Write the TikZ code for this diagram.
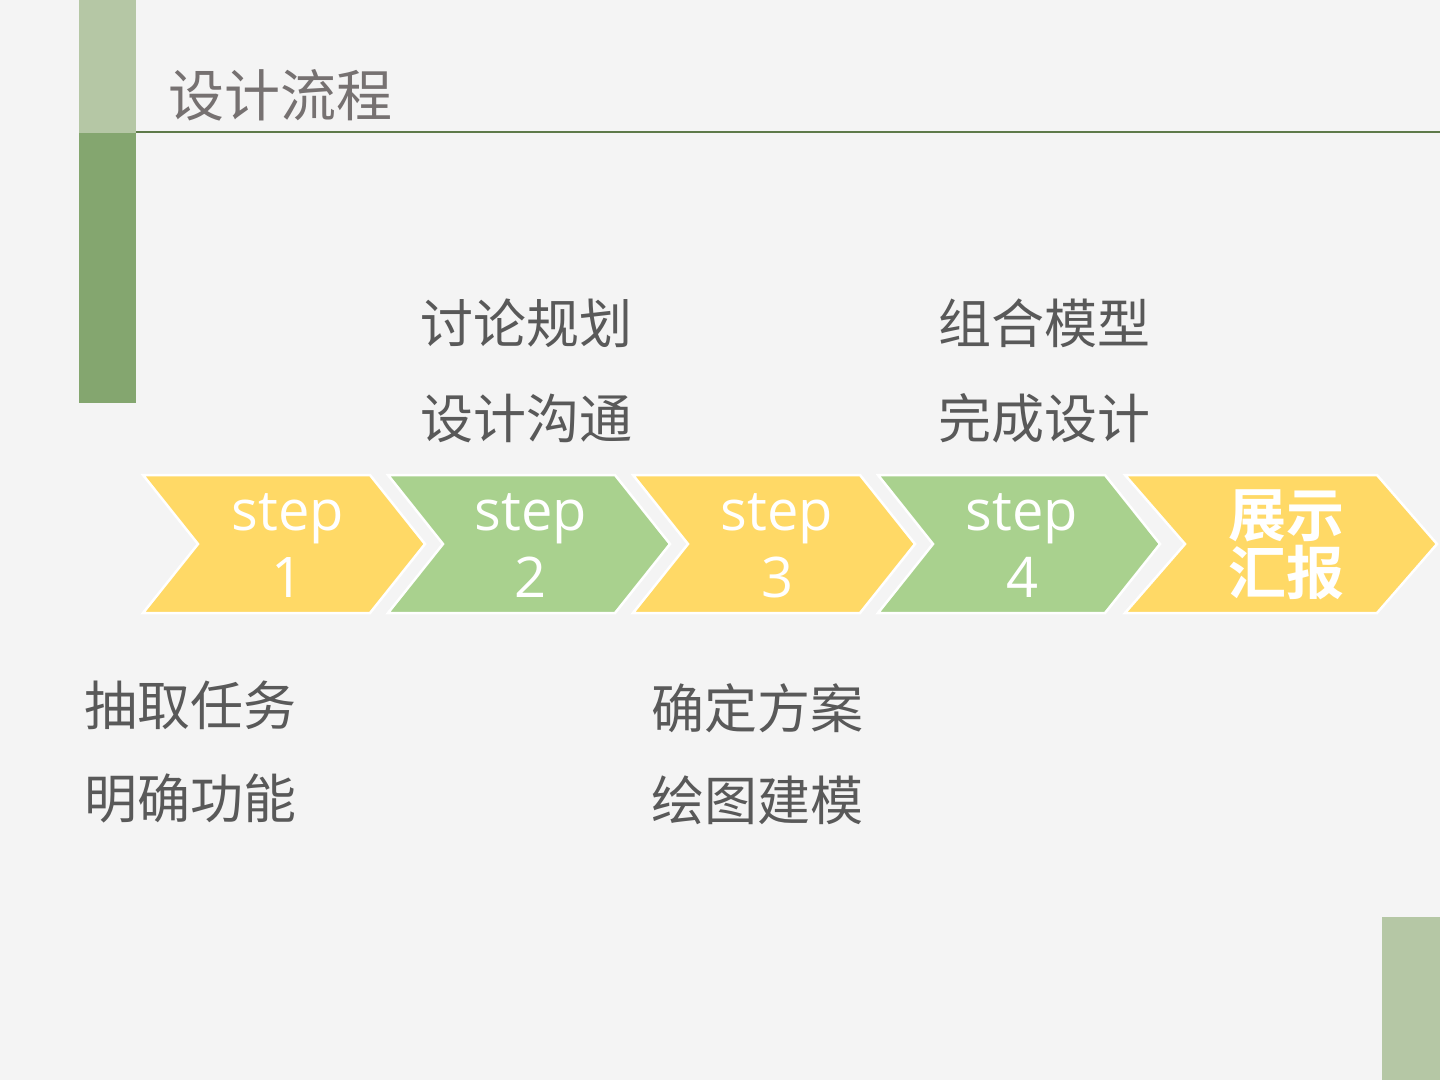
\documentclass[tikz,border=0pt]{standalone}
\usepackage{fontspec}
\setmainfont{Open Sans}
\newfontfamily\cjk{Noto Sans CJK SC}
\newfontfamily\cjkb{Noto Sans CJK SC Bold}
\definecolor{bgc}{HTML}{F4F4F4}
\definecolor{barlight}{HTML}{B5C7A5}
\definecolor{bardark}{HTML}{84A66F}
\definecolor{rulec}{HTML}{5E7A4A}
\definecolor{yel}{HTML}{FFD966}
\definecolor{grn}{HTML}{A9D18E}
\definecolor{txt}{HTML}{595959}
\definecolor{ttl}{HTML}{767171}
\tikzset{
  chev/.style={draw=white, line width=2.5pt, line join=miter},
  steptext/.style={text=white, align=center, font=\fontsize{56}{66}\selectfont, inner sep=0pt},
  desc/.style={text=txt, anchor=west, inner sep=0pt, font=\cjk\fontsize{53}{60}\selectfont},
}
\begin{document}
\begin{tikzpicture}[x=1pt,y=-1pt]
\useasboundingbox (0,0) rectangle (1440,1080);
\fill[bgc] (0,0) rectangle (1440,1080);
% side bars
\fill[barlight] (79,0) rectangle (136,133);
\fill[bardark] (79,133) rectangle (136,403);
\draw[rulec, line width=1.8pt] (136,132) -- (1440,132);
\fill[barlight] (1382,917) rectangle (1440,1080);
% title
\node[text=ttl, anchor=west, inner sep=0pt, font=\cjk\fontsize{56}{64}\selectfont] (title) at (168,95) {设计流程};
% chevrons
\foreach \i/\c in {0/yel,1/grn,2/yel,3/grn}{
  \pgfmathsetmacro{\L}{143+245*\i}
  \pgfmathsetmacro{\F}{\L+227}
  \pgfmathsetmacro{\T}{\L+282}
  \draw[chev, fill=\c] (\L,475) -- (\F,475) -- (\T,544) -- (\F,613) -- (\L,613) -- (\L+55,544) -- cycle;
}
\draw[chev, fill=yel] (1125,475) -- (1377,475) -- (1437,544) -- (1377,613) -- (1125,613) -- (1185,544) -- cycle;
% chevron labels
\node[steptext] (s1) at (288,546) {step\\[1pt]1};
\node[steptext] (s2) at (531,546) {step\\[1pt]2};
\node[steptext] (s3) at (777,546) {step\\[1pt]3};
\node[steptext] (s4) at (1022,546) {step\\[1pt]4};
\node[text=white, align=center, inner sep=0pt, font=\cjkb\fontsize{58}{58}\selectfont] (s5) at (1286,545) {展示\\汇报};
% descriptions
\node[desc] (d2a) at (420,323) {讨论规划};
\node[desc] (d2b) at (420,418) {设计沟通};
\node[desc] (d4a) at (938,323) {组合模型};
\node[desc] (d4b) at (938,418) {完成设计};
\node[desc] (d1a) at (84,705) {抽取任务};
\node[desc] (d1b) at (84,798) {明确功能};
\node[desc] (d3a) at (651,708) {确定方案};
\node[desc] (d3b) at (651,800) {绘图建模};
\end{tikzpicture}
\end{document}
